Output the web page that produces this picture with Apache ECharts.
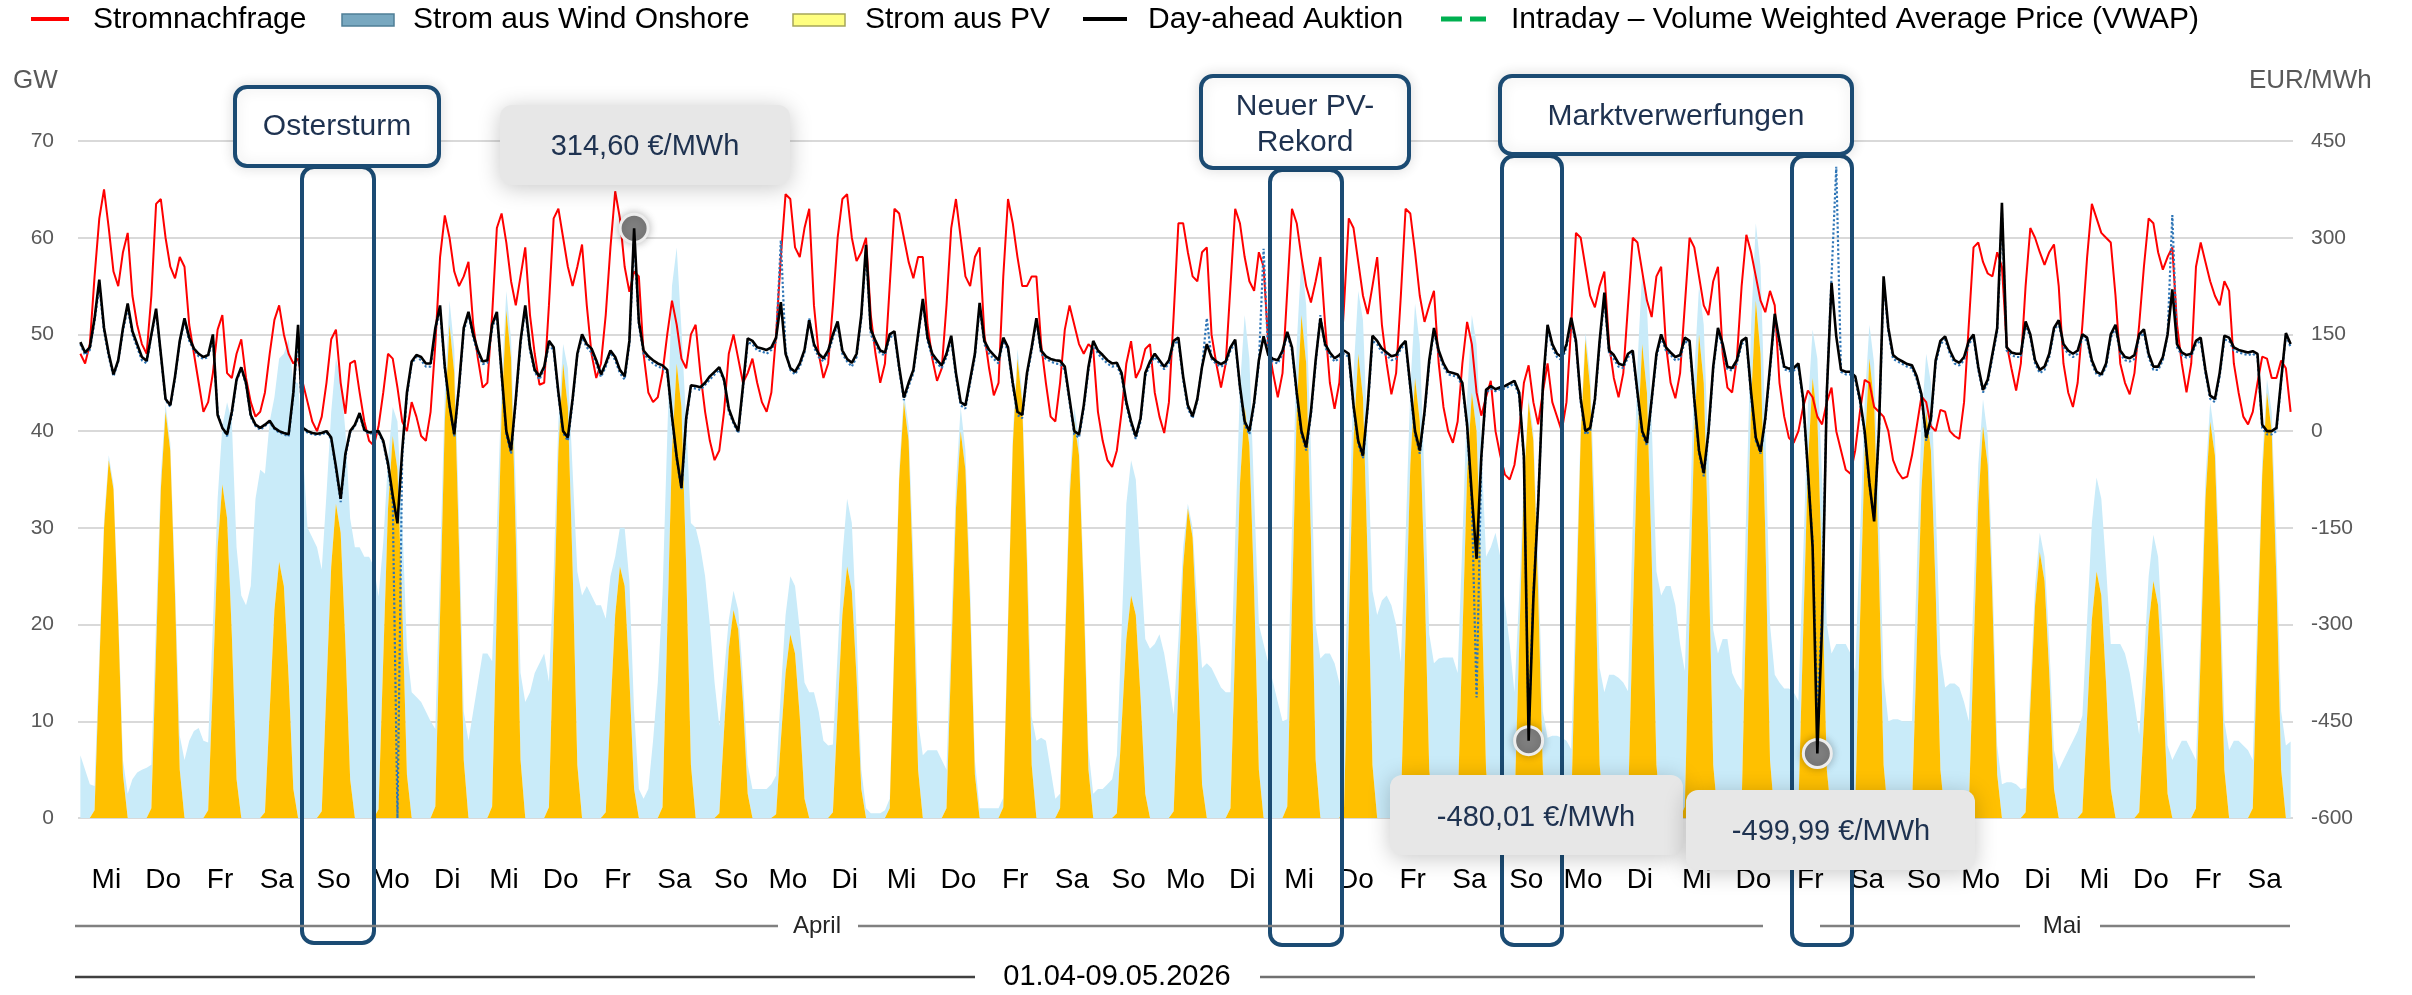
<!DOCTYPE html>
<html>
<head>
<meta charset="utf-8">
<title>Strom April/Mai 2026</title>
<script src="https://cdn.jsdelivr.net/npm/echarts@6/dist/echarts.min.js"></script>
<style>
  html, body { margin: 0; padding: 0; background: #fff; }
  #chart { width: 2412px; height: 995px; }
</style>
</head>
<body>
<div id="chart"></div>
<script>
// Werte je Tag zu den ungeraden Stunden 1,3,...,23 (01.04. - 09.05.2026)
var sampleHours = [1, 3, 5, 7, 9, 11, 13, 15, 17, 19, 21, 23];
var pvHours = [7, 9, 11, 13, 15, 17, 19];

var weekdays = ['Mi','Do','Fr','Sa','So','Mo','Di','Mi','Do','Fr','Sa','So','Mo','Di','Mi','Do','Fr','Sa','So','Mo',
  'Di','Mi','Do','Fr','Sa','So','Mo','Di','Mi','Do','Fr','Sa','So','Mo','Di','Mi','Do','Fr','Sa'];

// Stromnachfrage, GW
var demand = [
  [48, 47, 49, 56, 62, 65, 61, 56.5, 55, 58.5, 60.5, 54],
  [51, 49, 48, 54, 63.5, 64, 60, 57, 55.8, 58, 57, 51],
  [48, 45, 42, 43, 46, 50.5, 52, 46, 45.5, 48, 49.5, 45.5],
  [43, 41.5, 42, 44, 48, 51.5, 53, 50, 48, 47, 47.5, 45],
  [43, 41, 40, 41.5, 45, 49.5, 50.5, 45, 41.8, 47, 47.3, 44],
  [41, 39, 38.5, 40.5, 44, 48, 47.5, 44.5, 41, 40, 43, 41.5],
  [39.5, 39, 42, 49, 58, 62.3, 60, 56.5, 55, 56, 57.5, 51],
  [47.5, 44.5, 45, 52, 61, 62.5, 59.5, 55.5, 53, 56, 59, 52],
  [48, 44.8, 45, 53, 62, 63, 60, 57, 55, 57, 59.3, 53],
  [48, 45.5, 47, 52, 59, 64.8, 62, 57, 54.4, 56.5, 56, 48],
  [44, 43, 43.5, 46, 50, 53.5, 51, 47.5, 46.5, 50, 51, 46],
  [42, 39, 37, 38, 42, 48, 50, 47.5, 45, 46, 47.5, 45],
  [43, 42, 44, 50, 58, 64.5, 64, 59, 58, 61, 63, 53],
  [48, 45.5, 47, 53, 60, 64, 64.5, 60, 57.6, 58.5, 60, 52],
  [48, 45, 47, 55, 63, 62.5, 60, 57.5, 55.8, 58, 58, 51],
  [47.5, 45.2, 46.5, 53, 61, 64, 60, 56, 55, 58, 59, 50],
  [46.5, 43.7, 45, 56, 64, 61.5, 58, 55, 55, 56, 56, 49],
  [45, 41.5, 41, 45, 50.5, 53, 51, 49, 48, 49, 48.5, 42],
  [39, 37, 36.3, 38, 42, 47, 49.3, 45.5, 46.5, 48.5, 49, 44],
  [41.5, 39.8, 43, 52, 61.5, 61.5, 58.5, 56, 55.5, 58.5, 59, 50],
  [47, 44.5, 47, 55, 63, 61.5, 58, 55.5, 54.5, 58.5, 57, 49],
  [46, 43.5, 46, 54.5, 63, 61.5, 58, 55, 53.3, 55.5, 58, 51],
  [45, 42.3, 45, 53, 62, 61, 57.5, 54, 52.1, 55, 58, 51],
  [47, 43.8, 46, 54, 63, 62.5, 58.5, 54, 51.3, 53, 54.5, 47],
  [42.5, 40, 38.8, 41, 47, 51.3, 49, 44, 41.6, 43.5, 45.2, 40],
  [37.5, 35.5, 35, 36.5, 40, 45, 46.8, 43, 40.7, 44, 47, 43],
  [41.5, 40, 43, 51, 60.5, 60, 57, 54, 52.8, 55, 56.5, 49],
  [45.5, 43.5, 46, 53, 60, 59.5, 56.5, 53.5, 51.8, 56, 57, 49],
  [45, 43.4, 46, 53, 60, 59, 56, 53, 52, 55.5, 57, 48],
  [44.5, 44, 47.5, 55, 60.3, 58.5, 56, 53.5, 52.3, 54.5, 53, 45],
  [41.5, 39.3, 38.8, 40, 42.5, 44.2, 43.5, 41.5, 40.7, 43, 44.5, 40],
  [38, 36, 35.6, 38, 42, 45.3, 45, 42.5, 42, 41.5, 40, 37],
  [35.8, 35.1, 35.3, 37.5, 40.5, 43.6, 43, 40.5, 40, 42.2, 42, 40],
  [39.5, 39.2, 43, 51, 59, 59.5, 57.5, 56.3, 56, 58.5, 57, 49],
  [46.5, 44.2, 47, 55, 61, 60, 58.5, 57.2, 58.5, 59.3, 55, 47],
  [44, 42.5, 45, 51, 58, 63.5, 62, 60.5, 60, 59.5, 54, 47],
  [45, 43.8, 46, 51, 57, 62, 61.5, 58.5, 56.7, 58, 59, 51],
  [47, 44, 47, 57, 59.5, 57.5, 55.5, 54, 53, 55.5, 54.5, 47],
  [44, 41.5, 40.7, 42, 45, 47.7, 47.5, 45.5, 45.5, 47.3, 46.5, 42]
];

// Strom aus Wind Onshore, GW (liegt auf PV gestapelt)
var windOnshore = [
  [6.5, 5, 3.5, 2.5, 1.5, 0.8, 0.5, 0.5, 1, 1.5, 2.5, 4],
  [4.7, 5, 5.2, 4.5, 3, 1.5, 0.8, 0.8, 1.5, 3.5, 6, 8],
  [9, 9.3, 8, 7, 6, 5, 6, 12, 22, 24, 23, 22],
  [24, 33, 36, 35, 30, 22, 21, 24, 35, 42, 45, 38],
  [30, 29, 28, 25, 20, 16, 15, 16, 22, 27, 28, 28],
  [27, 27, 26, 22, 12, 5, 3, 5, 9, 13, 13, 12.5],
  [12, 11, 10, 8, 5, 3, 2.5, 2.5, 3, 5, 8, 11],
  [14, 17, 17, 15, 8, 3, 2, 2, 5, 9, 12, 13],
  [15, 16, 17, 13, 6, 3, 2, 4, 10, 20, 23, 24],
  [23, 22, 22, 20, 14, 6, 4, 6, 10, 8, 3, 2],
  [3, 8, 14, 22, 20, 17, 12, 8, 15, 25, 30, 28],
  [25, 20, 14, 9, 6, 3, 2, 2, 2.5, 3, 3, 3],
  [3, 3, 3.5, 4, 5, 6, 6, 7, 9, 12, 13, 13],
  [11, 8, 7.5, 7, 6, 6, 7, 7, 5, 2, 1, 0.5],
  [0.5, 0.5, 0.8, 1, 1, 1, 1, 1.5, 3, 5, 6.5, 7],
  [7, 7, 6, 4, 3, 2.5, 2.5, 2, 2, 1.5, 1, 1],
  [1, 1, 1, 1, 1, 1, 1, 1, 2, 5, 8, 8.3],
  [8, 5, 2, 1.5, 1.5, 1.5, 1.5, 1.5, 1.5, 2, 2.5, 3],
  [3, 3.5, 4, 6, 10, 14, 14, 14, 14, 16, 17.5, 18],
  [19, 17, 14, 10, 5, 2, 0.5, 1, 4, 12, 16, 15.5],
  [14.5, 13.5, 13, 12, 11, 10, 9.5, 9, 10, 15, 18, 16],
  [14, 12, 10, 9, 8, 7, 6, 6, 9, 14, 16.5, 17],
  [17, 16, 14, 10, 8, 7, 6.5, 8, 12, 18, 21, 22.5],
  [23, 22, 20, 15, 10, 8, 7.7, 8, 10, 14, 16, 16.5],
  [16.6, 16.6, 16.6, 14, 10, 8, 8, 9, 14, 22, 28, 29.5],
  [27, 22, 18, 12, 5, 1, 0.4, 1, 3, 6, 8.3, 8.5],
  [8.5, 8.3, 8, 6, 3, 1, 0.7, 1.5, 5, 10, 13, 14.8],
  [14.8, 14.5, 14, 12, 10, 8, 7.7, 9, 14, 20, 23, 24],
  [24, 22, 18, 14, 9, 6, 5, 6, 10, 14, 17, 18.5],
  [18.5, 15, 13.9, 12, 10, 8, 8, 9, 11, 14, 14.8, 14],
  [13.4, 13.4, 13, 11, 8, 6, 5, 6, 10, 15, 17, 18],
  [18, 18, 17, 14, 9, 5, 3.5, 4, 6, 9, 10, 10.2],
  [10.2, 10, 10, 9, 8, 7, 6, 7, 9, 12, 13.5, 13.9],
  [13.9, 13.5, 12, 9, 6, 4, 2.8, 3, 3, 3, 3.5, 3.7],
  [3.7, 3.5, 3, 2.5, 2, 2, 2, 2.5, 3, 4, 5, 6],
  [7, 8, 9, 10, 10, 10, 9.7, 10, 12, 15, 18, 18],
  [17, 15, 12, 8, 6, 5, 4.8, 5, 5, 5, 6, 7],
  [8, 8, 7, 5, 3, 2, 2, 2, 3, 5, 7, 8],
  [8, 7.5, 7, 5, 3, 1.5, 1.4, 2, 4, 6, 7.5, 7.9]
];

// Strom aus PV, GW, nur Tagstunden 7..19 (nachts 0)
var pv = [
  [0.8, 15.5, 30, 37, 34, 20.5, 4.5],
  [1, 17.5, 34, 42, 38, 23, 5],
  [0.8, 14, 28, 34.5, 31, 19, 4],
  [0.6, 11, 21.5, 26.5, 24, 14.5, 3],
  [0.7, 13.5, 26, 32.5, 29.5, 18, 4],
  [0.9, 16.5, 32, 39.5, 36, 22, 4.5],
  [1.2, 21, 41, 51, 46, 28, 6],
  [1.2, 22, 42, 52.5, 47.5, 29, 6],
  [1.1, 19.5, 38, 47, 42.5, 26, 5.5],
  [0.6, 11, 21, 26, 24, 14.5, 3],
  [1.1, 19.5, 38, 47, 42.5, 26, 5.5],
  [0.5, 9, 17.5, 21.5, 19.5, 12, 2.5],
  [0.4, 8, 15, 19, 17, 10.5, 2],
  [0.6, 11, 21, 26, 23.5, 14.5, 3],
  [1, 18, 35, 43, 39, 24, 5],
  [1, 16.5, 32, 40, 36, 22, 4.5],
  [1.1, 20, 38.5, 47.5, 43, 26.5, 5.5],
  [1, 17, 33, 41, 37.5, 23, 5],
  [0.5, 9.5, 18.5, 23, 21, 12.5, 2.5],
  [0.7, 13.5, 26, 32, 29, 18, 3.5],
  [1, 18, 34.5, 42.5, 38.5, 23.5, 5],
  [1.2, 22, 42, 52, 47, 29, 6],
  [1.1, 20, 39, 48, 43.5, 26.5, 5.5],
  [1.1, 19, 36.5, 45.5, 41, 25, 5],
  [1, 18.5, 35.5, 44, 40, 24.5, 5],
  [1, 18, 34.5, 43, 39, 23.5, 5],
  [1.1, 20.5, 39.5, 49.5, 44.5, 27, 5.5],
  [1.1, 20.5, 39, 49, 44, 27, 5.5],
  [1.2, 21, 40, 50, 45, 27.5, 5.5],
  [1.2, 22.5, 43, 53.5, 48, 29.5, 6],
  [1.1, 19, 36.5, 45.5, 41.5, 25, 5],
  [1.1, 20, 38, 47.5, 43, 26, 5.5],
  [1, 17.5, 34, 42, 38, 23.5, 5],
  [1, 17, 32.5, 40.5, 36.5, 22.5, 4.5],
  [0.6, 11.5, 22, 27.5, 24.5, 15, 3],
  [0.6, 10.5, 20.5, 25.5, 23, 14, 3],
  [0.6, 10, 20, 24.5, 22, 13.5, 2.5],
  [1, 17, 33, 41, 37.5, 23, 5],
  [1, 18.5, 35.5, 44, 40, 24.5, 5]
];

// Day-ahead Auktion, EUR/MWh
var dayAhead = [
  [138, 122, 130, 175, 235, 160, 120, 88, 110, 160, 198, 155],
  [135, 115, 109, 150, 190, 120, 50, 40, 85, 140, 175, 145],
  [128, 120, 115, 118, 150, 25, 5, -5, 30, 80, 99, 75],
  [25, 10, 5, 10, 16, 5, 0, -3, -5, 60, 165, 5],
  [0, -3, -4, -3, 0, -10, -55, -105, -35, 0, 10, 28],
  [2, -2, -1, 0, -15, -50, -100, -143, -30, 60, 108, 118],
  [115, 105, 105, 160, 195, 100, 40, -5, 70, 160, 185, 150],
  [125, 108, 110, 165, 185, 90, 0, -30, 50, 140, 195, 130],
  [95, 85, 100, 140, 130, 60, 0, -10, 50, 120, 150, 135],
  [128, 110, 88, 105, 125, 115, 95, 85, 140, 314.6, 170, 125],
  [116, 110, 105, 102, 95, 23, -40, -88, 20, 71, 70, 68],
  [75, 85, 92, 99, 80, 35, 15, 0, 70, 144, 140, 130],
  [128, 126, 130, 145, 200, 120, 98, 92, 105, 126, 172, 135],
  [120, 113, 125, 150, 170, 125, 112, 106, 120, 180, 289, 158],
  [140, 125, 122, 150, 155, 100, 52, 75, 95, 150, 205, 145],
  [120, 110, 102, 120, 148, 90, 45, 40, 80, 120, 199, 140],
  [126, 118, 110, 145, 130, 75, 30, 25, 90, 130, 175, 125],
  [116, 112, 110, 109, 100, 50, 0, -5, 40, 100, 140, 125],
  [118, 110, 105, 106, 90, 45, 15, -8, 20, 90, 108, 120],
  [110, 100, 110, 140, 145, 85, 40, 23, 50, 100, 135, 115],
  [108, 104, 108, 130, 142, 70, 15, 0, 45, 110, 147, 118],
  [112, 110, 125, 154, 130, 60, 0, -25, 30, 110, 175, 135],
  [122, 113, 118, 125, 120, 40, -15, -38, 40, 148, 140, 128],
  [122, 116, 118, 132, 140, 70, 0, -30, 30, 110, 160, 125],
  [105, 92, 90, 88, 75, 10, -100, -198, -40, 64, 70, 65],
  [68, 70, 74, 78, 60, -40, -480.01, -260, -115, 70, 165, 135],
  [120, 115, 135, 176, 140, 50, 0, 5, 50, 140, 215, 125],
  [118, 105, 102, 120, 125, 60, 0, -18, 50, 120, 150, 130],
  [122, 115, 118, 145, 140, 50, -30, -65, 0, 100, 160, 135],
  [100, 98, 110, 140, 145, 60, -10, -32, 20, 100, 182, 140],
  [100, 97, 98, 105, 50, -60, -180, -499.99, -300, 60, 230, 147],
  [95, 92, 92, 85, 50, 0, -80, -140, 0, 240, 160, 118],
  [112, 108, 104, 102, 85, 57, -10, 20, 110, 140, 147, 125],
  [110, 106, 115, 140, 150, 100, 64, 80, 120, 160, 354, 130],
  [122, 120, 120, 170, 150, 110, 95, 100, 120, 160, 172, 135],
  [125, 120, 125, 150, 145, 110, 92, 88, 105, 150, 165, 125],
  [115, 113, 118, 150, 158, 120, 100, 100, 115, 150, 220, 135],
  [122, 118, 120, 140, 145, 95, 55, 50, 90, 148, 145, 130],
  [126, 124, 122, 124, 120, 10, 0, 0, 5, 80, 152, 135]
];

// Intraday VWAP, EUR/MWh
var vwap = [
  [135, 118, 126, 170, 225, 155, 115, 85, 108, 155, 192, 150],
  [130, 110, 105, 148, 185, 118, 48, 38, 82, 138, 172, 140],
  [125, 116, 112, 115, 145, 28, 5, -8, 25, 78, 96, 72],
  [22, 8, 2, 8, 14, 3, -2, -5, -8, 55, 150, 0],
  [-2, -5, -6, -5, -2, -12, -60, -110, -40, -2, 8, 25],
  [0, -4, -3, -2, -18, -55, -110, -600, -40, 55, 105, 115],
  [110, 100, 100, 155, 190, 95, 38, -8, 65, 155, 182, 145],
  [120, 104, 106, 160, 180, 85, -5, -35, 45, 135, 190, 125],
  [92, 80, 96, 135, 125, 55, -3, -15, 45, 118, 145, 130],
  [122, 105, 84, 100, 122, 110, 90, 80, 135, 300, 165, 120],
  [112, 105, 100, 98, 90, 20, -45, -90, 15, 68, 66, 64],
  [72, 80, 88, 95, 78, 30, 12, -3, 65, 138, 135, 125],
  [124, 120, 126, 140, 296, 125, 95, 88, 100, 122, 175, 130],
  [115, 108, 120, 145, 165, 120, 108, 100, 115, 175, 280, 150],
  [135, 120, 118, 145, 150, 95, 48, 70, 90, 145, 200, 140],
  [115, 105, 98, 115, 142, 85, 40, 35, 75, 115, 192, 135],
  [120, 112, 105, 140, 125, 70, 25, 20, 85, 125, 170, 120],
  [112, 108, 105, 104, 95, 45, -5, -10, 35, 95, 135, 120],
  [112, 105, 100, 102, 85, 40, 10, -12, 15, 85, 104, 115],
  [105, 96, 105, 135, 140, 80, 35, 20, 48, 100, 175, 112],
  [104, 100, 104, 125, 138, 65, 10, -5, 40, 105, 283, 115],
  [108, 105, 120, 150, 125, 55, -5, -30, 25, 105, 180, 130],
  [118, 108, 113, 120, 115, 35, -20, -42, 35, 140, 135, 122],
  [118, 110, 112, 128, 135, 65, -5, -35, 25, 105, 155, 120],
  [100, 88, 86, 84, 70, 5, -110, -413, -45, 60, 66, 62],
  [65, 66, 70, 74, 55, -45, -470, -250, -110, 65, 160, 130],
  [115, 110, 130, 170, 135, 45, -5, 0, 45, 135, 205, 120],
  [112, 100, 98, 115, 120, 55, -5, -22, 45, 115, 145, 125],
  [118, 110, 112, 140, 135, 45, -35, -70, -5, 95, 155, 130],
  [96, 94, 105, 135, 140, 55, -15, -35, 15, 95, 178, 135],
  [96, 93, 94, 100, 45, -65, -170, -440, -280, 60, 240, 410],
  [92, 88, 88, 80, 45, -5, -85, -135, -5, 230, 155, 112],
  [108, 104, 100, 98, 80, 52, -15, 15, 105, 135, 142, 120],
  [105, 102, 110, 135, 145, 95, 60, 75, 115, 155, 340, 125],
  [118, 115, 115, 165, 145, 105, 90, 95, 115, 155, 168, 130],
  [120, 115, 120, 145, 140, 105, 88, 85, 100, 145, 160, 120],
  [110, 108, 112, 145, 152, 115, 95, 95, 110, 150, 335, 130],
  [118, 114, 116, 135, 140, 90, 50, 45, 85, 142, 140, 125],
  [122, 120, 118, 120, 115, 5, -5, -5, 0, 78, 150, 130]
];

// markierte Preispunkte (Tag, Stunde, Wert)
var priceMarks = [
  { day: 9, hour: 19, value: 314.6 },
  { day: 25, hour: 13, value: -480.01 },
  { day: 30, hour: 15, value: -499.99 }
];

var gwTicks = [0, 70, 10];
var eurTicks = [-600, 450, 150];

// Zeitachse (ms), damit ECharts die y-Werte stapelt
var HOUR = 3600 * 1000;
var T0 = Date.UTC(2026, 3, 1);
function tAt(d, h) { return T0 + (d * 24 + h) * HOUR; }

function toPoints(rows) {
  var out = [];
  rows.forEach(function (row, d) {
    row.forEach(function (v, i) { out.push([tAt(d, sampleHours[i]), v]); });
  });
  return out;
}
function pvPoints(rows) {
  var out = [];
  rows.forEach(function (row, d) {
    sampleHours.forEach(function (h) {
      var i = pvHours.indexOf(h);
      out.push([tAt(d, h), i < 0 ? 0 : row[i]]);
    });
  });
  return out;
}

var chart = echarts.init(document.getElementById('chart'));
var FONT = '"Liberation Sans", Arial, sans-serif';
var NAVY = '#1B4B73';
var TXT = '#1E3250';

function txt(x, y, s, size, color, align) {
  return { type: 'text', z: 140, x: x, y: y,
    style: { text: s, font: size + 'px ' + FONT, fill: color, align: align || 'left', verticalAlign: 'middle' } };
}
function hline(x1, x2, y, color, w) {
  return { type: 'line', z: 120, shape: { x1: x1, y1: y, x2: x2, y2: y }, style: { stroke: color, lineWidth: w } };
}
function box(x, y, w, h, fill, shadow) {
  return { type: 'rect', z: 110, shape: { x: x, y: y, width: w, height: h, r: 12 },
    style: { fill: fill || 'rgba(0,0,0,0)', stroke: NAVY, lineWidth: 4,
      shadowBlur: shadow ? 14 : 0, shadowColor: 'rgba(0,0,0,0.12)' } };
}
function callout(x, y, w, h) {
  return { type: 'rect', z: 130, shape: { x: x, y: y, width: w, height: h, r: 12 },
    style: { fill: '#E7E7E7', shadowBlur: 22, shadowColor: 'rgba(0,0,0,0.22)', shadowOffsetY: 3 } };
}

var graphics = [
  // Legende
  hline(31, 69, 19, '#FF0000', 4),
  txt(93, 20, 'Stromnachfrage', 30, '#000'),
  { type: 'rect', z: 120, shape: { x: 342, y: 14, width: 52, height: 12 }, style: { fill: '#78A8C0', stroke: '#4F7F96', lineWidth: 1.5 } },
  txt(413, 20, 'Strom aus Wind Onshore', 30, '#000'),
  { type: 'rect', z: 120, shape: { x: 793, y: 14, width: 52, height: 12 }, style: { fill: '#FFFF80', stroke: '#A6A65A', lineWidth: 1.5 } },
  txt(865, 20, 'Strom aus PV', 30, '#000'),
  hline(1083, 1127, 19, '#000', 4),
  txt(1148, 20, 'Day-ahead Auktion', 30, '#000'),
  hline(1441, 1462, 19, '#00B050', 5),
  hline(1470, 1486, 19, '#00B050', 5),
  txt(1511, 20, 'Intraday \u2013 Volume Weighted Average Price (VWAP)', 30, '#000'),
  // Achsentitel
  txt(13, 81, 'GW', 26, '#595959'),
  txt(2249, 81, 'EUR/MWh', 26, '#595959'),
  // Monate
  hline(75, 778, 926, '#808080', 2.5),
  hline(858, 1763, 926, '#808080', 2.5),
  txt(817, 926, 'April', 24, '#262626', 'center'),
  hline(1820, 2020, 926, '#808080', 2.5),
  hline(2100, 2290, 926, '#808080', 2.5),
  txt(2062, 926, 'Mai', 24, '#262626', 'center'),
  // Zeitraum
  hline(75, 975, 977, '#404040', 2.5),
  hline(1260, 2255, 977, '#707070', 2.5),
  txt(1117, 977, '01.04-09.05.2026', 29, '#000', 'center'),
  // Markierte Tage
  box(302, 167, 72, 776),
  box(1270, 170, 72, 775),
  box(1502, 156, 60, 789),
  box(1792, 156, 60, 789),
  // Beschriftungen
  box(235, 87, 204, 79, '#FFFFFF', true),
  txt(337, 127, 'Ostersturm', 30, TXT, 'center'),
  box(1201, 76, 208, 92, '#FFFFFF', true),
  txt(1305, 107, 'Neuer PV-', 30, TXT, 'center'),
  txt(1305, 143, 'Rekord', 30, TXT, 'center'),
  box(1500, 76, 352, 78, '#FFFFFF', true),
  txt(1676, 117, 'Marktverwerfungen', 30, TXT, 'center'),
  // Preis-Callouts
  callout(500, 105, 290, 80),
  txt(645, 147, '314,60 \u20AC/MWh', 29, TXT, 'center'),
  callout(1390, 775, 293, 80),
  txt(1536, 818, '-480,01 \u20AC/MWh', 29, TXT, 'center'),
  callout(1686, 790, 289, 80),
  txt(1831, 832, '-499,99 \u20AC/MWh', 29, TXT, 'center')
];

var option = {
  animation: false,
  backgroundColor: '#ffffff',
  textStyle: { fontFamily: FONT },
  grid: { left: 78, right: 119, top: 141, bottom: 177 },
  xAxis: [
    { type: 'time', min: T0, max: tAt(weekdays.length, 0), show: false },
    { type: 'category', data: weekdays, boundaryGap: true, position: 'bottom',
      axisLine: { show: false }, axisTick: { show: false }, splitLine: { show: false },
      axisLabel: { interval: 0, fontSize: 28, color: '#000', margin: 48, fontFamily: FONT } }
  ],
  yAxis: [
    { type: 'value', min: gwTicks[0], max: gwTicks[1], interval: gwTicks[2],
      axisLine: { show: false }, axisTick: { show: false },
      axisLabel: { fontSize: 21, color: '#595959', margin: 24, fontFamily: FONT },
      splitLine: { lineStyle: { color: '#D9D9D9', width: 2 } } },
    { type: 'value', min: eurTicks[0], max: eurTicks[1], interval: eurTicks[2], position: 'right',
      axisLine: { show: false }, axisTick: { show: false },
      axisLabel: { fontSize: 21, color: '#595959', margin: 18, fontFamily: FONT },
      splitLine: { show: false } }
  ],
  series: [
    { name: 'Strom aus PV', type: 'line', stack: 'erzeugung', xAxisIndex: 0, yAxisIndex: 0,
      data: pvPoints(pv), showSymbol: false, lineStyle: { width: 0 },
      areaStyle: { color: '#FFC000', opacity: 1 }, z: 2 },
    { name: 'Strom aus Wind Onshore', type: 'line', stack: 'erzeugung', xAxisIndex: 0, yAxisIndex: 0,
      data: toPoints(windOnshore), showSymbol: false, lineStyle: { width: 0 },
      areaStyle: { color: '#C9EBF9', opacity: 1 }, z: 1 },
    { name: 'Stromnachfrage', type: 'line', xAxisIndex: 0, yAxisIndex: 0,
      data: toPoints(demand), showSymbol: false, lineStyle: { color: '#FF0000', width: 2 }, z: 3 },
    { name: 'Intraday VWAP', type: 'line', xAxisIndex: 0, yAxisIndex: 1,
      data: toPoints(vwap), showSymbol: false, lineStyle: { color: '#2E75B6', width: 2.2, type: 'dotted' }, z: 4 },
    { name: 'Day-ahead Auktion', type: 'line', xAxisIndex: 0, yAxisIndex: 1,
      data: toPoints(dayAhead), showSymbol: false, lineStyle: { color: '#000000', width: 2.6 }, z: 5,
      markPoint: {
        symbol: 'circle', symbolSize: 28, silent: true,
        itemStyle: { color: '#7F7F7F', borderColor: '#EDEDED', borderWidth: 3,
          shadowBlur: 8, shadowColor: 'rgba(0,0,0,0.25)' },
        label: { show: false },
        data: priceMarks.map(function (m) { return { coord: [tAt(m.day, m.hour), m.value] }; })
      } }
  ],
  graphic: graphics
};
chart.setOption(option);
</script>
</body>
</html>
